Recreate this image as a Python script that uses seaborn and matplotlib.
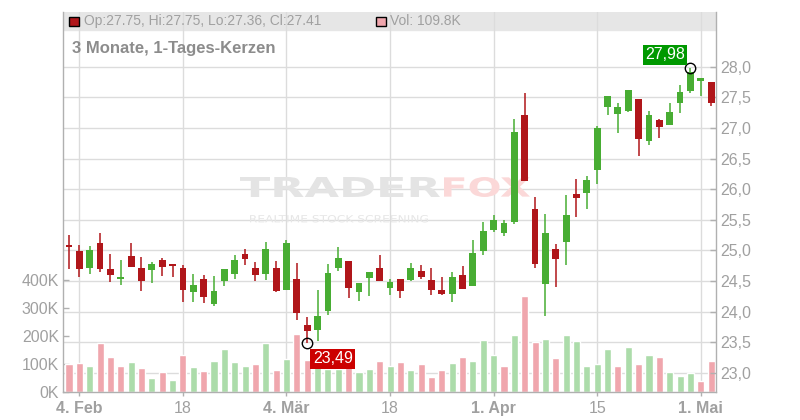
import numpy as np
import pandas as pd
import matplotlib
matplotlib.use("Agg")
import matplotlib.pyplot as plt
import matplotlib.patches as mpatches
from matplotlib.textpath import TextPath
from matplotlib.font_manager import FontProperties
from matplotlib.transforms import Affine2D
import seaborn as sns

# --- Dados (63 velas diárias) ---
opens = [25.09, 24.99, 24.71, 25.12, 24.69, 24.53, 24.90, 24.72, 24.68, 24.85,
         24.78, 24.72, 24.32, 24.53, 24.12, 24.50, 24.61, 24.94, 24.72, 24.61,
         24.72, 24.35, 24.54, 23.78, 23.70, 24.01, 24.71, 24.82, 24.32, 24.55,
         24.72, 24.39, 24.54, 24.51, 24.66, 24.51, 24.36, 24.29, 24.59, 24.42,
         24.99, 25.33, 25.28, 25.46, 27.22, 25.67, 24.45, 25.02, 25.13, 25.92,
         25.93, 26.31, 27.34, 27.23, 27.28, 27.47, 26.79, 27.13, 27.05, 27.41,
         27.60, 27.77, 27.75]
highs = [25.25, 25.08, 25.07, 25.28, 24.94, 24.85, 25.12, 24.89, 24.81, 24.88,
         24.78, 24.76, 24.61, 24.59, 24.58, 24.69, 24.92, 25.03, 24.81, 25.13,
         24.82, 25.17, 24.79, 23.91, 24.35, 24.77, 25.05, 24.82, 24.46, 24.64,
         24.92, 24.54, 24.54, 24.79, 24.76, 24.72, 24.56, 24.64, 24.74, 25.17,
         25.46, 25.57, 25.50, 27.14, 27.57, 25.87, 25.60, 25.10, 25.90, 26.16,
         26.21, 27.04, 27.53, 27.40, 27.62, 27.47, 27.28, 27.14, 27.40, 27.70,
         27.98, 27.81, 27.75]
lows = [24.69, 24.57, 24.61, 24.65, 24.48, 24.43, 24.73, 24.34, 24.47, 24.58,
        24.57, 24.16, 24.16, 24.14, 24.09, 24.42, 24.53, 24.76, 24.50, 24.52,
        24.32, 24.35, 23.86, 23.49, 23.52, 23.94, 24.66, 24.22, 24.17, 24.25,
        24.50, 24.27, 24.22, 24.50, 24.54, 24.27, 24.27, 24.16, 24.37, 24.42,
        24.92, 25.30, 25.24, 25.43, 26.13, 24.71, 23.93, 24.40, 24.76, 25.55,
        25.68, 26.08, 27.21, 26.92, 27.26, 26.54, 26.73, 26.84, 27.05, 27.25,
        27.57, 27.52, 27.36]
closes = [25.06, 24.69, 25.00, 24.70, 24.60, 24.56, 24.73, 24.50, 24.77, 24.73,
          24.75, 24.35, 24.43, 24.24, 24.33, 24.69, 24.85, 24.86, 24.60, 25.03,
          24.34, 25.12, 23.98, 23.68, 23.92, 24.63, 24.87, 24.39, 24.46, 24.64,
          24.50, 24.48, 24.34, 24.72, 24.57, 24.35, 24.29, 24.56, 24.37, 24.95,
          25.31, 25.49, 25.44, 26.93, 26.13, 24.78, 25.29, 24.86, 25.57, 25.86,
          26.15, 27.00, 27.53, 27.34, 27.62, 26.82, 27.21, 27.02, 27.26, 27.59,
          27.92, 27.81, 27.41]
# Volume em milhares
volumes = [101, 105, 95, 176, 127, 95, 108, 87, 51, 72,
           44, 133, 90, 76, 112, 155, 108, 94, 101, 176,
           80, 119, 210, 117, 90, 84, 83, 105, 72, 83,
           112, 94, 108, 80, 101, 56, 80, 105, 126, 112,
           187, 133, 94, 205, 344, 180, 191, 123, 205, 183,
           94, 101, 155, 94, 162, 101, 133, 126, 72, 58,
           69, 40, 112]
vol_dir = ['d', 'd', 'u', 'd', 'd', 'd', 'u', 'd', 'u', 'd',
           'u', 'd', 'u', 'd', 'u', 'u', 'u', 'u', 'd', 'u',
           'd', 'u', 'd', 'd', 'u', 'u', 'u', 'd', 'u', 'u',
           'd', 'u', 'd', 'u', 'd', 'd', 'd', 'u', 'd', 'u',
           'u', 'u', 'd', 'u', 'd', 'd', 'u', 'd', 'u', 'u',
           'u', 'u', 'u', 'd', 'u', 'd', 'u', 'd', 'u', 'u',
           'u', 'd', 'd']

date_tick_idx = [1, 11, 21, 31, 41, 51, 61]
date_tick_labels = ['4. Feb', '18', '4. Mär', '18', '1. Apr', '15', '1. Mai']
price_ticks = [23.0, 23.5, 24.0, 24.5, 25.0, 25.5, 26.0, 26.5, 27.0, 27.5, 28.0]
vol_ticks = [0, 100, 200, 300, 400]
vol_tick_labels = ['0K', '100K', '200K', '300K', '400K']

# --- Cores ---
RED = '#b0161a'
GREEN = '#48ad33'
VOL_RED = '#f0a6ad'
VOL_GREEN = '#acdcaa'
GRID = '#dcdcdc'
TXT = '#a0a0a0'

sns.set_theme(style="white")
plt.rcParams['font.family'] = ['Liberation Sans', 'DejaVu Sans']

W, H = 800, 420
fig = plt.figure(figsize=(8, 4.2), dpi=100)
left, right, top, bottom = 63.3, 716.3, 11.7, 392.3
rect = [left / W, 1 - bottom / H, (right - left) / W, (bottom - top) / H]
xlim = (-0.55, 62.5)
ylim = (22.681, 28.90)


def marca_dagua(texto, x0, x1, y_top, y_bot, cor, peso='bold'):
    # texto esticado para caber na caixa (coordenadas em pixels)
    tp = TextPath((0, 0), texto, size=1, prop=FontProperties(family='DejaVu Sans', weight=peso))
    ext = tp.get_extents()
    tr = (Affine2D().translate(-ext.x0, -ext.y0)
          .scale((x1 - x0) / ext.width, (y_bot - y_top) / ext.height)
          .translate(x0, H - y_bot))
    fig.add_artist(mpatches.PathPatch(tp, transform=tr, fc=cor, ec='none', zorder=1.5))


# Eixo de fundo: grade e barra da legenda
ax_bg = fig.add_axes(rect, zorder=1)
ax_bg.set_xlim(xlim)
ax_bg.set_ylim(ylim)
ax_bg.set_xticks(date_tick_idx)
ax_bg.set_yticks(price_ticks)
ax_bg.grid(True, color=GRID, lw=1)
ax_bg.set_axisbelow(True)
ax_bg.tick_params(left=False, bottom=False, labelleft=False, labelbottom=False)
for s in ax_bg.spines.values():
    s.set_visible(False)
ax_bg.add_patch(mpatches.Rectangle((0, 1 - 18.5 / (bottom - top)), 1, 18.5 / (bottom - top),
                                   transform=ax_bg.transAxes, color='#e6e6e6', zorder=0.1))

# Volume (seaborn)
ax_vol = fig.add_axes(rect, zorder=2)
ax_vol.patch.set_visible(False)
df_vol = pd.DataFrame({'idx': np.arange(len(volumes)), 'vol': volumes, 'dir': vol_dir})
sns.barplot(data=df_vol, x='idx', y='vol', hue='dir', palette={'u': VOL_GREEN, 'd': VOL_RED},
            dodge=False, width=0.68, saturation=1, errorbar=None, legend=False, ax=ax_vol)
ax_vol.set_xlim(xlim)
ax_vol.set_ylim(0, (bottom - top) / 28.0 * 100)
ax_vol.set_xticks([])
ax_vol.set_xlabel('')
ax_vol.set_ylabel('')
ax_vol.set_yticks(vol_ticks)
ax_vol.set_yticklabels(vol_tick_labels)
ax_vol.tick_params(axis='y', left=True, direction='in', length=4, width=1, color='#b0b0b0',
                   labelsize=11.5, labelcolor=TXT, pad=3)
for s in ax_vol.spines.values():
    s.set_visible(False)

# Velas
ax = fig.add_axes(rect, zorder=3)
ax.patch.set_visible(False)
idx = np.arange(len(opens))
o = np.array(opens)
c = np.array(closes)
cores = [GREEN if cc >= oo else RED for oo, cc in zip(o, c)]
ax.vlines(idx, lows, highs, colors=cores, lw=1.1, zorder=2)
corpo = np.maximum(np.abs(c - o), 0.025)
ax.bar(idx, corpo, bottom=np.minimum(o, c), width=0.66, color=cores, lw=0, zorder=3)
ax.set_xlim(xlim)
ax.set_ylim(ylim)
ax.set_xticks(date_tick_idx)
ax.set_xticklabels(date_tick_labels)
for lbl in ax.get_xticklabels():
    if not lbl.get_text().isdigit():
        lbl.set_fontweight('bold')
ax.yaxis.tick_right()
ax.set_yticks(price_ticks)
ax.set_yticklabels([f'{v:.1f}'.replace('.', ',') for v in price_ticks])
ax.tick_params(axis='y', right=True, direction='in', length=4, width=1, color='#b0b0b0',
               labelsize=11.5, labelcolor=TXT, pad=3)
ax.tick_params(axis='x', bottom=True, direction='out', length=3, width=1, color='#b0b0b0',
               labelsize=11.5, labelcolor=TXT, pad=3)
for nome, s in ax.spines.items():
    s.set_visible(nome != 'top')
    s.set_color('#b0b0b0')
    s.set_linewidth(1)

# Máxima e mínima marcadas
i_max = int(np.argmax(highs))
i_min = int(np.argmin(lows))
ax.plot([i_max, i_min], [highs[i_max], lows[i_min]], 'o', mfc='none', mec='black',
        mew=1, ms=7.5, zorder=5, clip_on=False)
ax.annotate(f'{highs[i_max]:.2f}'.replace('.', ','), xy=(i_max, highs[i_max]),
            xytext=(-4, 4), textcoords='offset points', ha='right', va='bottom',
            color='white', fontsize=11.5,
            bbox=dict(boxstyle='square,pad=0.15', fc='#009900', ec='none'), zorder=6)
ax.annotate(f'{lows[i_min]:.2f}'.replace('.', ','), xy=(i_min, lows[i_min]),
            xytext=(4, -6), textcoords='offset points', ha='left', va='top',
            color='white', fontsize=11.5,
            bbox=dict(boxstyle='square,pad=0.15', fc='#cc0000', ec='none'), zorder=6)

# Marca d'água
marca_dagua('TRADER', 240, 440, 177, 197, '#e4e4e4')
marca_dagua('FOX', 444, 530, 177, 197, '#fbd8d8')
marca_dagua('REALTIME STOCK SCREENING', 250, 428, 215, 222.5, '#e6e6e6', peso='normal')

# Legenda superior
fig.patches.append(mpatches.Rectangle((68.7 / W, 1 - 26 / H), 10 / W, 9 / H, fc=RED, ec='black',
                                      lw=1, transform=fig.transFigure, zorder=5))
fig.text(84 / W, 1 - 21 / H, f'Op:{opens[-1]:.2f}, Hi:{highs[-1]:.2f}, Lo:{lows[-1]:.2f}, Cl:{closes[-1]:.2f}',
         ha='left', va='center', fontsize=10, color=TXT, zorder=5)
fig.patches.append(mpatches.Rectangle((375.5 / W, 1 - 26 / H), 10 / W, 9 / H, fc=VOL_RED, ec='black',
                                      lw=1, transform=fig.transFigure, zorder=5))
fig.text(390 / W, 1 - 21 / H, 'Vol: 109.8K', ha='left', va='center', fontsize=10,
         color=TXT, zorder=5)
fig.text(72 / W, 1 - 48 / H, '3 Monate, 1-Tages-Kerzen', ha='left', va='center', fontsize=12,
         fontweight='bold', color='#8c8c8c', zorder=5)

fig.savefig('out.png', dpi=100)
